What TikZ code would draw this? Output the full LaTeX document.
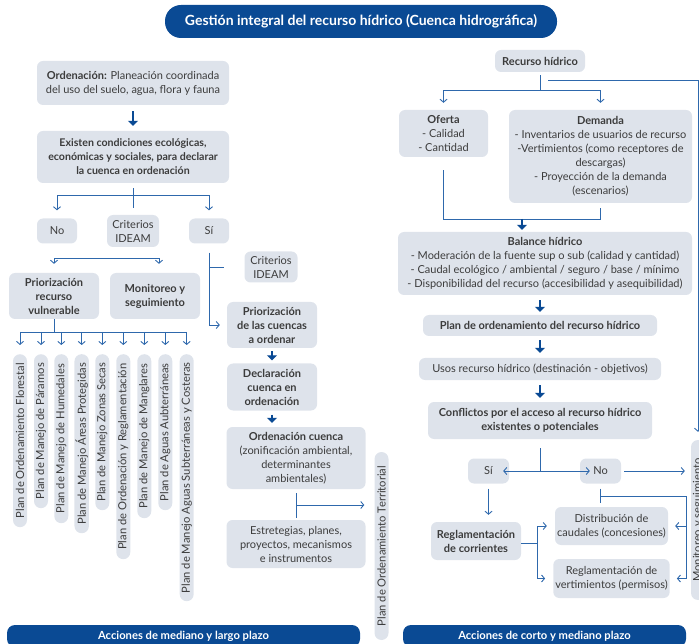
\documentclass[tikz,border=0pt]{standalone}
\usepackage{fontspec}
\setmainfont{Lato}
\usetikzlibrary{arrows.meta,positioning}
\definecolor{boxcol}{RGB}{222,227,235}
\definecolor{barcol}{RGB}{10,74,148}
\definecolor{lincol}{RGB}{46,104,172}
\definecolor{txtcol}{RGB}{60,60,60}
\newcommand{\txtsize}{\fontsize{11}{14}\selectfont}
\tikzstyle{box}=[fill=boxcol, rounded corners=6pt, align=center, text=txtcol, inner sep=2pt, font=\txtsize]
\tikzstyle{boxb}=[box, font=\txtsize\bfseries]
\tikzstyle{vlabel}=[box, rotate=90, anchor=east, rounded corners=7pt, minimum height=14pt, inner sep=1pt, font=\fontsize{11.2}{12}\selectfont]
\tikzstyle{bar}=[fill=barcol, text=white, rounded corners=8pt, font=\fontsize{11.2}{12}\selectfont\bfseries]
\tikzstyle{link}=[draw=lincol, line width=0.9pt]
\tikzstyle{openarr}=[link, -{Straight Barb[length=3pt,width=7pt]}]
\tikzstyle{fillarr}=[draw=barcol, line width=1.5pt, -{Triangle[length=5pt,width=10pt]}]
\begin{document}
\begin{tikzpicture}[x=1pt,y=-1pt]
\useasboundingbox (0,0) rectangle (699,644);
\node[bar, rounded corners=16pt, minimum width=392pt, minimum height=33pt, font=\fontsize{14}{16}\selectfont\bfseries] (title) at (361,21.5) {Gestión integral del recurso hídrico (Cuenca hidrográfica)};

% left: mediano y largo plazo
\node[box, minimum width=192pt, minimum height=44pt] (orden) at (133,83) {\textbf{Ordenación:} Planeación coordinada\\del uso del suelo, agua, flora y fauna};
\node[boxb, minimum width=192pt, minimum height=52pt, font=\fontsize{10.6}{14}\selectfont\bfseries] (existen) at (133,157) {Existen condiciones ecológicas,\\económicas y sociales, para declarar\\la cuenca en ordenación};
\node[box, minimum width=40pt, minimum height=25pt] (no1) at (57,231) {No};
\node[box, minimum width=52pt, minimum height=32pt] (crit1) at (133,231) {Criterios\\IDEAM};
\node[box, minimum width=40pt, minimum height=25pt] (si1) at (209,231) {Sí};
\node[boxb, minimum width=90pt, minimum height=46pt] (prio1) at (54,296) {Priorización\\recurso\\vulnerable};
\node[boxb, minimum width=90pt, minimum height=46pt] (moni1) at (155,296) {Monitoreo y\\seguimiento};
\node[box, minimum width=53pt, minimum height=31pt] (crit2) at (271,267) {Criterios\\IDEAM};
\node[boxb, minimum width=90pt, minimum height=46pt] (prio2) at (272,325) {Priorización\\de las cuencas\\a ordenar};
\node[boxb, minimum width=90pt, minimum height=47pt] (decl) at (272,387) {Declaración\\cuenca en\\ordenación};
\node[box, minimum width=139pt, minimum height=62pt] (ordcu) at (296,458) {\textbf{Ordenación cuenca}\\(zonificación ambiental,\\determinantes\\ambientales)};
\node[box, minimum width=139pt, minimum height=48pt] (estr) at (296,544) {Estretegias, planes,\\proyectos, mecanismos\\e instrumentos};
\node[vlabel, anchor=center, minimum width=188pt] (pot) at (381.5,546) {Plan de Ordenamiento Territorial};
\foreach \i/\x/\len/\txt in {1/20/173/{Plan de Ordenamiento Florestal},
    2/41/154/{Plan de Manejo de Páramos},
    3/61.3/169/{Plan de Manejo de Humedales},
    4/81.7/179/{Plan de Manejo Áreas Protegidas},
    5/102.3/156/{Plan de Manejo Zonas Secas},
    6/123.3/205/{Plan de Ordenación y Reglamentación},
    7/144.3/164/{Plan de Manejo de Manglares},
    8/165.3/156/{Plan de Aguas Aubterráneas},
    9/186.7/247/{Plan de Manejo Aguas Subterráneas y Costeras}}
  \node[vlabel, minimum width=\len pt] (p\i) at (\x,354) {\txt};
\node[bar, minimum width=353pt, minimum height=22pt] (barL) at (183.5,636) {Acciones de mediano y largo plazo};

% right: corto y mediano plazo
\node[boxb, minimum width=90pt, minimum height=22pt] (recurso) at (540,61) {Recurso hídrico};
\node[box, minimum width=89pt, minimum height=47pt] (oferta) at (443.5,133.5) {\textbf{Oferta}\\- Calidad\\- Cantidad};
\node[box, minimum width=183pt, minimum height=93pt] (demanda) at (600.5,156.5) {\textbf{Demanda}\\- Inventarios de usuarios de recurso\\-Vertimientos (como receptores de\\descargas)\\- Proyección de la demanda\\(escenarios)};
\node[box, minimum width=294pt, minimum height=63pt] (balance) at (545,263.5) {\textbf{Balance hídrico}\\- Moderación de la fuente sup o sub (calidad y cantidad)\\- Caudal ecológico / ambiental / seguro / base / mínimo\\- Disponibilidad del recurso (accesibilidad y asequibilidad)};
\node[boxb, minimum width=234pt, minimum height=21pt] (plan) at (540,325.5) {Plan de ordenamiento del recurso hídrico};
\node[box, minimum width=242pt, minimum height=22pt] (usos) at (540,369) {Usos recurso hídrico (destinación - objetivos)};
\node[boxb, minimum width=224pt, minimum height=37pt] (conflictos) at (540,420.5) {Conflictos por el acceso al recurso hídrico\\existentes o potenciales};
\node[box, minimum width=41pt, minimum height=25pt] (si2) at (488.5,471) {Sí};
\node[box, minimum width=41pt, minimum height=25pt] (no2) at (600.5,471) {No};
\node[boxb, minimum width=90pt, minimum height=38pt] (regl) at (476,541) {Reglamentación\\de corrientes};
\node[box, minimum width=113pt, minimum height=38pt] (distr) at (611.5,526) {Distribución de\\caudales (concesiones)};
\node[box, minimum width=113pt, minimum height=39pt] (vert) at (611.5,578.5) {Reglamentación de\\vertimientos (permisos)};
\node[vlabel, anchor=center, minimum width=160pt] (moni2) at (698,520) {Monitoreo y seguimiento};
\node[bar, minimum width=283pt, minimum height=22pt] (barR) at (544.5,636) {Acciones de corto y mediano plazo};

% connectors left
\draw[fillarr] ([yshift=-6pt]orden.south) -- ([yshift=5pt]existen.north);
\draw[link] ([yshift=-5pt]existen.south) -- ([yshift=-25pt]existen.south);
\draw[openarr] ([yshift=-12pt]existen.south) -| ([yshift=8pt]no1.north);
\draw[openarr] ([yshift=-12pt]existen.south) -| ([yshift=8pt]si1.north);
\coordinate (nb) at (107,258);
\draw[openarr] (nb) -| ([yshift=9pt]prio1.north);
\draw[openarr] (nb) -| ([xshift=4pt,yshift=9pt]moni1.north);
\coordinate (pbar) at (54,332);
\draw[link] (prio1.south) -- (pbar);
\draw[link] (p1.east |- pbar) -- (p9.east |- pbar);
\foreach \i in {1,...,9}
  \draw[openarr] (p\i.east |- pbar) -- ([yshift=9pt]p\i.east);
\draw[openarr] ([yshift=-9pt]si1.south) |- ([xshift=-7pt]prio2.west);
\draw[link] (si1.south |- crit2) -- ([xshift=-20pt]crit2.west);
\draw[fillarr] ([yshift=-3pt]prio2.south) -- ([yshift=3pt]decl.north);
\draw[fillarr] ([yshift=-4pt]decl.south) -- ([yshift=4pt]decl.south |- ordcu.north);
\draw[link] ([yshift=-4pt]ordcu.south) -- ([yshift=2pt]estr.north);
\coordinate (oc) at (296,505);
\draw[openarr] (oc) -- ([xshift=-10pt]pot.north |- oc);

% connectors right
\coordinate (rj) at (540,90);
\draw[link] ([yshift=-3pt]recurso.south) -- (rj);
\draw[openarr] (rj) -| ([yshift=7pt]oferta.north);
\draw[openarr] (rj) -| ([yshift=7pt]demanda.north);
\draw[openarr] ([xshift=8pt,yshift=-8pt]recurso.south) -| ([yshift=8pt]moni2.east);
\draw[link] ([yshift=-13pt]oferta.south) |- ([yshift=-16pt]demanda.south);
\draw[link] ([yshift=-5pt]demanda.south) -- ([yshift=-16pt]demanda.south);
\coordinate (bj) at (522,219);
\draw[fillarr] (bj) -- ([yshift=2pt]balance.north -| bj);
\draw[fillarr] ([yshift=-5pt]balance.south -| plan) -- ([yshift=3pt]plan.north);
\draw[fillarr] ([yshift=-4pt]plan.south) -- ([yshift=5pt]usos.north);
\draw[fillarr] ([yshift=-5pt]usos.south) -- ([yshift=4pt]conflictos.north);
\coordinate (cj) at (540,471);
\draw[link] ([yshift=-9pt]conflictos.south) -- (cj);
\draw[openarr] (cj) -- ([xshift=-6pt]si2.east);
\draw[openarr] (cj) -- ([xshift=10pt]no2.west);
\draw[openarr] ([xshift=3pt]no2.east) -- ([xshift=-6pt]moni2.north |- no2);
\draw[openarr] ([yshift=-5pt]si2.south) -- ([yshift=7pt]si2.south |- regl.north);
\coordinate (rk) at (537,543);
\draw[link] (regl.east |- rk) -- (rk);
\draw[openarr] (rk) |- ([xshift=-8pt]distr.west);
\draw[openarr] (rk) |- ([xshift=-8pt]vert.west);
\coordinate (nj) at (600,496);
\coordinate (nk) at (686,496);
\draw[link] ([yshift=-5pt]no2.south) -- ([yshift=-19pt]no2.south);
\draw[link] (nj) -- (nk);
\draw[openarr] (nk) |- ([xshift=7pt]distr.east);
\draw[openarr] (nk) |- ([xshift=7pt]vert.east);
\end{tikzpicture}
\end{document}
